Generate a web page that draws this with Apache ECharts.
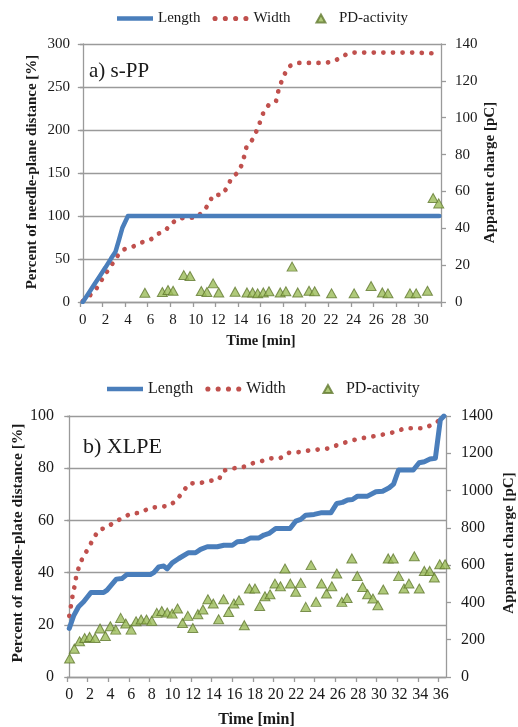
<!DOCTYPE html>
<html>
<head>
<meta charset="utf-8">
<title>Needle-plane / needle-plate tree growth</title>
<script src="https://cdn.jsdelivr.net/npm/echarts@6.0.0/dist/echarts.min.js"></script>
<style>
  html, body { margin: 0; padding: 0; background: #fff; }
  #chart { width: 518px; height: 727px; }
</style>
</head>
<body>
<div id="chart"></div>
<script>
// ---------- a) s-PP ----------
const timeLabelsA = [0, 2, 4, 6, 8, 10, 12, 14, 16, 18, 20, 22, 24, 26, 28, 30];

const lengthTimeA = [0, 0.5, 1, 1.5, 2, 2.5, 2.9, 3.2, 3.5, 4, 31.6];
const lengthA     = [0, 10, 20, 30, 40, 50.5, 58.5, 72, 86, 100, 100];

const widthTimeA = [0, 0.66, 1.22, 1.64, 2.08, 2.55, 3.03, 3.62, 4.39, 5.16, 5.96, 6.63, 7.31, 7.85,
  8.44, 9.26, 10.09, 10.68, 11.2, 11.5, 12.37, 12.78, 13.14, 13.76, 14.11, 14.34, 14.52, 15.05,
  15.44, 15.73, 16.0, 16.47, 17.12, 17.3, 17.54, 17.89, 18.28, 18.96, 19.81, 20.64, 21.47, 22.3,
  23.0, 23.78, 24.6, 25.43, 26.28, 27.1, 27.97, 28.8, 29.65, 30.48, 31.31];
const widthA = [1, 8, 16, 25, 34, 43, 53, 61, 64, 69, 72, 79, 83, 91,
  97, 98, 98, 106, 114, 124, 125, 133, 143, 151, 160, 171, 181, 189,
  200, 210, 220, 229, 233, 244, 254, 265, 274, 278, 278, 278, 278, 280,
  286, 290, 290, 290, 290, 290, 290, 290, 290, 289.5, 289];

const pdTimeA = [5.5, 7.05, 7.55, 8.0, 8.95, 9.5, 10.5, 11.0, 11.55, 12.05, 13.5, 14.55, 15.05,
  15.5, 16.0, 16.5, 17.5, 18.0, 18.55, 19.05, 20.05, 20.55, 22.05, 24.05, 25.55, 26.55, 27.05,
  29.0, 29.55, 30.55, 31.05, 31.55];
const pdA = [5.0, 5.4, 6.5, 6.1, 14.6, 14.1, 6.0, 5.4, 10.1, 5.2, 5.6, 5.2, 5.2,
  4.7, 5.2, 5.8, 5.2, 5.8, 19.2, 5.2, 6.1, 5.8, 4.7, 4.7, 8.7, 5.2, 4.7,
  4.7, 4.7, 6.1, 56.4, 53.5];

// ---------- b) XLPE ----------
const timeLabelsB = [0, 2, 4, 6, 8, 10, 12, 14, 16, 18, 20, 22, 24, 26, 28, 30, 32, 34, 36];

const lengthTimeB = [0, 0.42, 0.9, 1.39, 2.1, 3.33, 3.66, 4.56, 5.1, 5.6, 7.86, 8.19, 8.67, 9.16,
  9.48, 9.97, 10.61, 11.52, 12.23, 12.72, 13.37, 14.34, 14.98, 15.8, 16.28, 16.93, 17.57, 18.38,
  18.86, 19.35, 20.0, 21.39, 21.94, 22.43, 22.91, 23.72, 24.37, 25.34, 25.92, 26.47, 26.96, 27.44,
  27.93, 28.9, 29.71, 30.36, 31.0, 31.42, 31.9, 33.33, 33.9, 34.4, 34.95, 35.47, 35.95, 36.3];
const lengthB = [18.6, 23.4, 26.9, 28.8, 32.4, 32.4, 33.3, 37.5, 37.7, 39.3, 39.3, 40.0, 42.2, 42.5,
  41.4, 43.7, 45.4, 47.6, 47.6, 48.9, 49.9, 49.9, 50.5, 50.5, 51.8, 52.0, 53.3, 53.3,
  54.4, 55.0, 56.9, 56.9, 59.7, 60.4, 62.0, 62.3, 62.9, 62.9, 66.5, 66.9, 67.8, 68.0,
  69.3, 69.3, 71.0, 71.2, 72.5, 73.9, 79.3, 79.3, 82.1, 82.5, 83.5, 83.8, 98.5, 100];

const widthTimeB = [0, 0.16, 0.32, 0.52, 0.68, 0.97, 1.33, 1.88, 2.3, 2.85, 3.66, 4.3, 5.11, 5.99,
  6.89, 7.8, 8.74, 9.71, 10.45, 11.04, 11.65, 12.55, 13.52, 14.5, 14.92, 15.8, 16.77, 17.7,
  18.61, 19.51, 20.42, 21.29, 22.26, 23.23, 24.2, 25.17, 26.05, 26.96, 27.86, 28.8, 29.74, 30.65,
  31.58, 32.5, 33.43, 34.4, 35.27, 36.02];
const widthB = [23.4, 27.2, 31.1, 34.9, 38.7, 42.6, 46, 49.5, 52.8, 56.3, 57.3, 59.2, 60.8, 62.7,
  62.9, 64.8, 65.2, 65.6, 68, 71.2, 74.2, 74.2, 75.1, 75.7, 79, 79.9, 80.3, 81.8,
  82.7, 83.8, 83.8, 85.9, 86.2, 86.8, 87.2, 87.6, 89, 90.1, 91.1, 91.8, 92.4, 93.1,
  93.9, 95.3, 95.3, 95.3, 96.9, 98.7];

const pdTimeB = [0.03, 0.49, 1.0, 1.49, 1.97, 2.5, 2.98, 3.5, 3.98, 4.5, 4.98, 5.47, 5.99, 6.47,
  6.96, 7.48, 7.99, 8.48, 8.96, 9.49, 9.97, 10.49, 10.97, 11.49, 11.97, 12.46, 12.95, 13.43,
  13.95, 14.47, 14.95, 15.44, 15.95, 16.44, 16.96, 17.45, 17.99, 18.45, 18.96, 19.45, 19.93, 20.46,
  20.9, 21.42, 21.94, 22.43, 22.91, 23.43, 23.91, 24.44, 24.92, 25.44, 25.92, 26.41, 26.92, 27.38,
  27.9, 28.42, 28.9, 29.42, 29.9, 30.42, 30.9, 31.39, 31.91, 32.43, 32.91, 33.43, 33.91, 34.4,
  34.92, 35.37, 35.89, 36.41];
const pdB = [99, 152, 192, 209, 215, 209, 260, 220, 272, 254, 317, 287, 254, 299,
  308, 308, 301, 344, 354, 346, 340, 367, 290, 328, 263, 337, 362, 417,
  394, 310, 417, 349, 394, 412, 278, 475, 475, 381, 433, 444, 501, 487,
  582, 501, 457, 505, 376, 600, 403, 501, 448, 487, 555, 403, 424, 636,
  542, 483, 444, 421, 385, 469, 636, 636, 541, 475, 501, 648, 475, 569,
  569, 534, 605, 605];

// ---------- styling ----------
const FONT = '"Liberation Serif", "Times New Roman", serif';
const BLUE = '#4A7EBB';
const RED = '#C0504D';
const GREEN = '#9BBB59';
const GREEN_EDGE = '#62792F';
const GRID_GRAY = '#9A9A9A';
const TEXT = '#1a1a1a';

const pairs = (xs, ys) => xs.map((x, i) => [x, ys[i]]);
const plain = v => String(v);

// Ticks sit half a sampling step before each labelled minute.
const tickOffsetA = 0.25;
const tickOffsetB = 0.22;
const ticksA = timeLabelsA.map(v => v - tickOffsetA).concat([31.75]);
const ticksB = timeLabelsB.map(v => v - tickOffsetB);

const DOTS_ICON = 'path://M0,2.5a2.5,2.5 0 1,0 5,0a2.5,2.5 0 1,0 -5,0Z' +
  'M10,2.5a2.5,2.5 0 1,0 5,0a2.5,2.5 0 1,0 -5,0Z' +
  'M20,2.5a2.5,2.5 0 1,0 5,0a2.5,2.5 0 1,0 -5,0Z' +
  'M30,2.5a2.5,2.5 0 1,0 5,0a2.5,2.5 0 1,0 -5,0Z';
const LINE_ICON = 'path://M0,0H36V4.5H0Z';
const TRI_ICON = 'path://M5,0L10,9H0Z';

function xAxis(gridIndex, min, max, labels, ticks, fs, labelMargin) {
  return {
    type: 'value', gridIndex, min, max,
    axisLine: { show: true, lineStyle: { color: GRID_GRAY, width: 1.3 } },
    axisTick: { show: true, customValues: ticks, length: 5, lineStyle: { color: GRID_GRAY, width: 1.3 } },
    axisLabel: { customValues: labels, fontFamily: FONT, fontSize: fs, color: TEXT, margin: labelMargin },
    splitLine: { show: false }
  };
}

function yAxis(gridIndex, pos, min, max, interval, fs, labelMargin, grid) {
  return {
    type: 'value', gridIndex, position: pos, min, max, interval,
    axisLine: { show: true, lineStyle: { color: GRID_GRAY, width: 1.3 } },
    axisTick: { show: true, length: 5, lineStyle: { color: GRID_GRAY, width: 1.3 } },
    axisLabel: { fontFamily: FONT, fontSize: fs, color: TEXT, margin: labelMargin, formatter: plain },
    splitLine: { show: grid, lineStyle: { color: GRID_GRAY, width: 1.3 } }
  };
}

// Line entries (Length, Width) and the marker entry (PD-activity) are laid out separately
function lineLegend(left, top, fs) {
  return {
    left, top, padding: 0, orient: 'horizontal',
    itemWidth: 36, itemHeight: 8, itemGap: 12, selectedMode: false,
    textStyle: { fontFamily: FONT, fontSize: fs, color: TEXT },
    data: [
      { name: 'Length', icon: LINE_ICON },
      { name: 'Width', icon: DOTS_ICON }
    ]
  };
}
// `left` is the left corner of the triangle marker
function markerLegend(left, top, fs) {
  return {
    left, top, padding: 0, orient: 'horizontal',
    itemWidth: 26, itemHeight: 8, selectedMode: false,
    textStyle: { fontFamily: FONT, fontSize: fs, color: TEXT },
    data: [{ name: 'PD-activity', icon: TRI_ICON }]
  };
}

function axisTitle(text, x, y, size, vertical) {
  return {
    type: 'text', x, y, rotation: vertical ? Math.PI / 2 : 0,
    style: {
      text, fill: TEXT, font: 'bold ' + size + 'px ' + FONT,
      align: 'center', verticalAlign: 'middle'
    }
  };
}

function lengthSeries(xi, yi, data, w) {
  return {
    name: 'Length', type: 'line', xAxisIndex: xi, yAxisIndex: yi, data,
    color: BLUE, symbol: 'none', showSymbol: false, z: 3,
    lineStyle: { color: BLUE, width: w, cap: 'round', join: 'round' }
  };
}
function widthSeries(xi, yi, data) {
  return {
    name: 'Width', type: 'line', xAxisIndex: xi, yAxisIndex: yi, data,
    color: RED, symbol: 'none', showSymbol: false, z: 2,
    lineStyle: { color: RED, width: 4.7, type: [0.1, 9.5], cap: 'round' }
  };
}
function pdSeries(xi, yi, data) {
  return {
    name: 'PD-activity', type: 'scatter', xAxisIndex: xi, yAxisIndex: yi, data,
    color: GREEN, symbol: 'triangle', symbolSize: [10, 9], z: 4,
    itemStyle: { color: GREEN, borderColor: GREEN_EDGE, borderWidth: 1 }
  };
}

const option = {
  animation: false,
  backgroundColor: '#ffffff',
  textStyle: { fontFamily: FONT },
  grid: [
    { left: 80, top: 44, width: 361, height: 258, outerBoundsMode: 'none' },
    { left: 67, top: 416, width: 379, height: 261, outerBoundsMode: 'none' }
  ],
  legend: [
    lineLegend(117, 11, 15), markerLegend(315.5, 11, 15),
    lineLegend(107, 381, 16), markerLegend(322.5, 381, 16)
  ],
  xAxis: [
    xAxis(0, -0.25, 31.75, timeLabelsA, ticksA, 15, 11),
    xAxis(1, -0.22, 36.5, timeLabelsB, ticksB, 16, 10)
  ],
  yAxis: [
    yAxis(0, 'left', 0, 300, 50, 15, 10, true),
    yAxis(0, 'right', 0, 140, 20, 15, 14, false),
    yAxis(1, 'left', 0, 100, 20, 16, 13, true),
    yAxis(1, 'right', 0, 1400, 200, 16, 15, false)
  ],
  graphic: [
    { type: 'text', left: 89, top: 61, style: { text: 'a) s-PP', font: '21px ' + FONT, fill: TEXT } },
    { type: 'text', left: 83, top: 436, style: { text: 'b) XLPE', font: '22px ' + FONT, fill: TEXT } },
    axisTitle('Percent of needle-plane distance [%]', 32.5, 172, 15, true),
    axisTitle('Apparent charge [pC]', 490, 172.5, 15, true),
    axisTitle('Time [min]', 261, 341.5, 14.5, false),
    axisTitle('Percent of needle-plate distance [%]', 17.5, 543, 15.5, true),
    axisTitle('Apparent charge [pC]', 509, 543, 15, true),
    axisTitle('Time [min]', 256.5, 720, 16, false)
  ],
  series: [
    lengthSeries(0, 0, pairs(lengthTimeA, lengthA), 4.5),
    widthSeries(0, 0, pairs(widthTimeA, widthA)),
    pdSeries(0, 1, pairs(pdTimeA, pdA)),
    lengthSeries(1, 2, pairs(lengthTimeB, lengthB), 5),
    widthSeries(1, 2, pairs(widthTimeB, widthB)),
    pdSeries(1, 3, pairs(pdTimeB, pdB))
  ]
};

const chart = echarts.init(document.getElementById('chart'), null, { renderer: 'canvas' });
chart.setOption(option);
</script>
</body>
</html>
